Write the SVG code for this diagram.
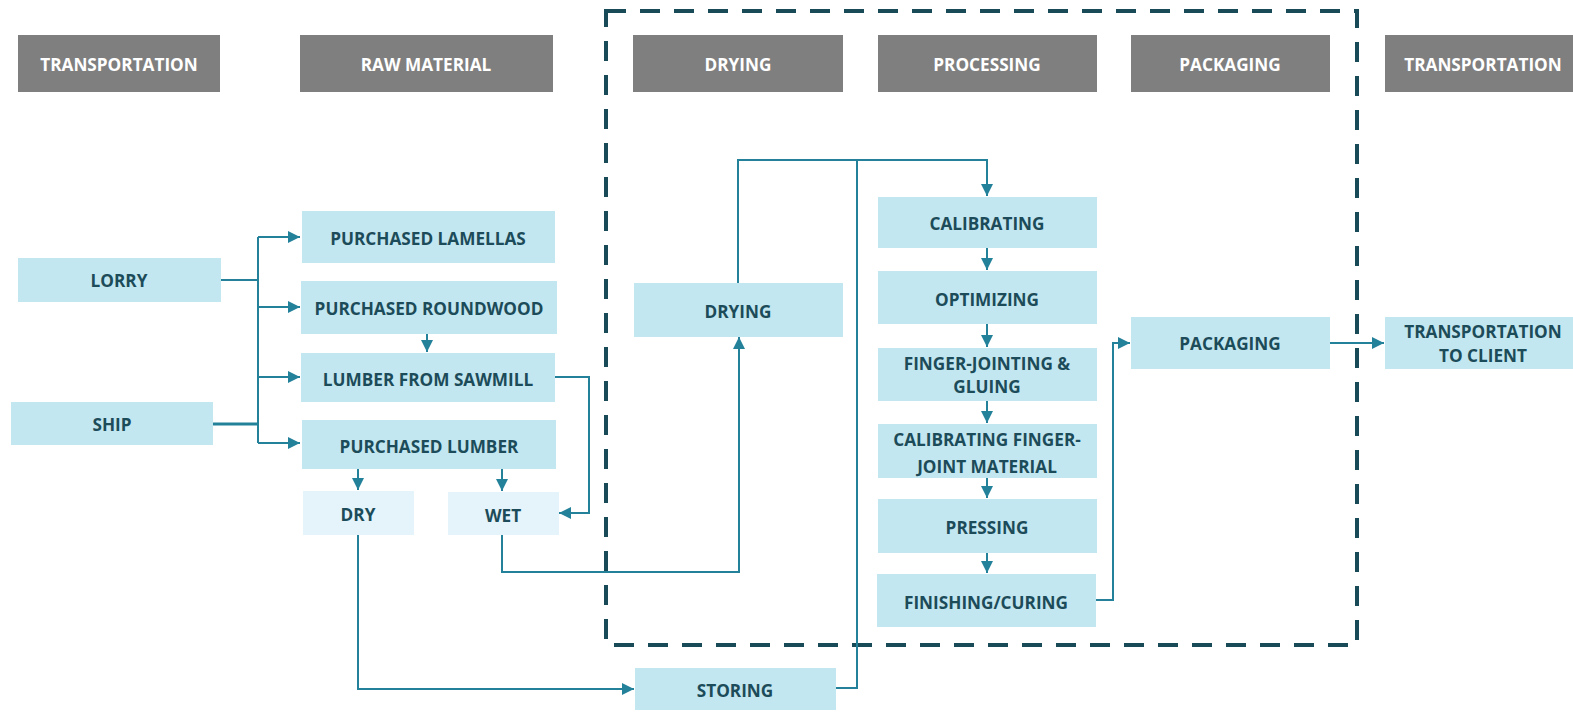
<svg xmlns="http://www.w3.org/2000/svg" width="1573" height="712" viewBox="0 0 1573 712">
<style>
.hdr{fill:#7f7f7f}
.hdt{fill:#ffffff;font-family:"Open Sans","Liberation Sans",sans-serif;font-weight:700;font-size:17.2px;text-anchor:middle;dominant-baseline:central}
.nd{fill:#c3e7f0}
.lt{fill:#e4f4fa}
.tx{fill:#1c4b59;font-family:"Open Sans","Liberation Sans",sans-serif;font-weight:700;font-size:17.2px;text-anchor:middle;dominant-baseline:central}
.cn{fill:none;stroke:#23819a;stroke-width:2}
.frame{fill:none;stroke:#184a58;stroke-width:4;stroke-dasharray:20 14}
</style>
<defs>
<marker id="arr" viewBox="0 0 10 10" refX="10" refY="5" markerWidth="12" markerHeight="12" markerUnits="userSpaceOnUse" orient="auto">
<path d="M0,0 L10,5 L0,10 Z" fill="#23819a"/>
</marker>
</defs>
<rect x="0" y="0" width="1573" height="712" fill="#ffffff"/>
<rect class="frame" x="606" y="11" width="751" height="634"/>
<g id="headers">
<g id="h-transport"><rect class="hdr" x="18" y="35" width="202" height="57"/><text class="hdt" x="119" y="64">TRANSPORTATION</text></g>
<g id="h-raw"><rect class="hdr" x="300" y="35" width="253" height="57"/><text class="hdt" x="426" y="64">RAW MATERIAL</text></g>
<g id="h-drying"><rect class="hdr" x="633" y="35" width="210" height="57"/><text class="hdt" x="738" y="64">DRYING</text></g>
<g id="h-processing"><rect class="hdr" x="878" y="35" width="219" height="57"/><text class="hdt" x="987" y="64">PROCESSING</text></g>
<g id="h-packaging"><rect class="hdr" x="1131" y="35" width="199" height="57"/><text class="hdt" x="1230" y="64">PACKAGING</text></g>
<g id="h-transport2"><rect class="hdr" x="1385" y="35" width="188" height="57"/><text class="hdt" x="1483" y="64">TRANSPORTATION</text></g>
</g>
<g id="connectors">
<polyline class="cn" points="221,280 258,280"/>
<polyline class="cn" points="213,424 258,424" style="stroke-width:3"/>
<polyline class="cn" points="258,237 258,443"/>
<polyline class="cn" points="258,237 300,237" marker-end="url(#arr)"/>
<polyline class="cn" points="258,307 300,307" marker-end="url(#arr)"/>
<polyline class="cn" points="258,377 300,377" marker-end="url(#arr)"/>
<polyline class="cn" points="258,443 300,443" marker-end="url(#arr)"/>
<polyline class="cn" points="427,334 427,352" marker-end="url(#arr)"/>
<polyline class="cn" points="358,469 358,490" marker-end="url(#arr)"/>
<polyline class="cn" points="502,469 502,491" marker-end="url(#arr)"/>
<polyline class="cn" points="555,377 589,377 589,513 559,513" marker-end="url(#arr)"/>
<polyline class="cn" points="502,535 502,572 739,572 739,337" marker-end="url(#arr)"/>
<polyline class="cn" points="738,283 738,160 987,160 987,196" marker-end="url(#arr)"/>
<polyline class="cn" points="836,688 857,688 857,160"/>
<polyline class="cn" points="358,535 358,689 634,689" marker-end="url(#arr)"/>
<polyline class="cn" points="987,248 987,270" marker-end="url(#arr)"/>
<polyline class="cn" points="987,324 987,347" marker-end="url(#arr)"/>
<polyline class="cn" points="987,401 987,423" marker-end="url(#arr)"/>
<polyline class="cn" points="987,478 987,498" marker-end="url(#arr)"/>
<polyline class="cn" points="987,553 987,573" marker-end="url(#arr)"/>
<polyline class="cn" points="1096,600 1113,600 1113,343 1130,343" marker-end="url(#arr)"/>
<polyline class="cn" points="1330,343 1384,343" marker-end="url(#arr)"/>
</g>
<g id="lorry"><rect class="nd" x="18" y="258" width="203" height="44"/><text class="tx" x="119" y="280">LORRY</text></g>
<g id="ship"><rect class="nd" x="11" y="402" width="202" height="43"/><text class="tx" x="112" y="424">SHIP</text></g>
<g id="lamellas"><rect class="nd" x="302" y="211" width="253" height="52"/><text class="tx" x="428" y="238">PURCHASED LAMELLAS</text></g>
<g id="roundwood"><rect class="nd" x="301" y="281" width="256" height="53"/><text class="tx" x="429" y="308">PURCHASED ROUNDWOOD</text></g>
<g id="sawmill"><rect class="nd" x="301" y="353" width="254" height="49"/><text class="tx" x="428" y="379">LUMBER FROM SAWMILL</text></g>
<g id="purchased-lumber"><rect class="nd" x="302" y="420" width="254" height="49"/><text class="tx" x="429" y="446">PURCHASED LUMBER</text></g>
<g id="dry"><rect class="lt" x="303" y="491" width="111" height="44"/><text class="tx" x="358" y="514">DRY</text></g>
<g id="wet"><rect class="lt" x="448" y="492" width="111" height="43"/><text class="tx" x="503" y="515">WET</text></g>
<g id="drying"><rect class="nd" x="634" y="283" width="209" height="54"/><text class="tx" x="738" y="311">DRYING</text></g>
<g id="calibrating"><rect class="nd" x="878" y="197" width="219" height="51"/><text class="tx" x="987" y="223">CALIBRATING</text></g>
<g id="optimizing"><rect class="nd" x="878" y="271" width="219" height="53"/><text class="tx" x="987" y="299">OPTIMIZING</text></g>
<g id="finger-jointing"><rect class="nd" x="878" y="348" width="219" height="53"/><text class="tx" x="987" y="363">FINGER-JOINTING &amp;</text><text class="tx" x="987" y="386">GLUING</text></g>
<g id="calibrating-fj"><rect class="nd" x="878" y="424" width="219" height="54"/><text class="tx" x="987" y="439">CALIBRATING FINGER-</text><text class="tx" x="987" y="466">JOINT MATERIAL</text></g>
<g id="pressing"><rect class="nd" x="878" y="499" width="219" height="54"/><text class="tx" x="987" y="527">PRESSING</text></g>
<g id="finishing"><rect class="nd" x="877" y="574" width="219" height="53"/><text class="tx" x="986" y="602">FINISHING/CURING</text></g>
<g id="packaging"><rect class="nd" x="1131" y="317" width="199" height="52"/><text class="tx" x="1230" y="343">PACKAGING</text></g>
<g id="transport-client"><rect class="nd" x="1385" y="317" width="188" height="52"/><text class="tx" x="1483" y="331">TRANSPORTATION</text><text class="tx" x="1483" y="355">TO CLIENT</text></g>
<g id="storing"><rect class="nd" x="635" y="668" width="201" height="42"/><text class="tx" x="735" y="690">STORING</text></g>
</svg>
